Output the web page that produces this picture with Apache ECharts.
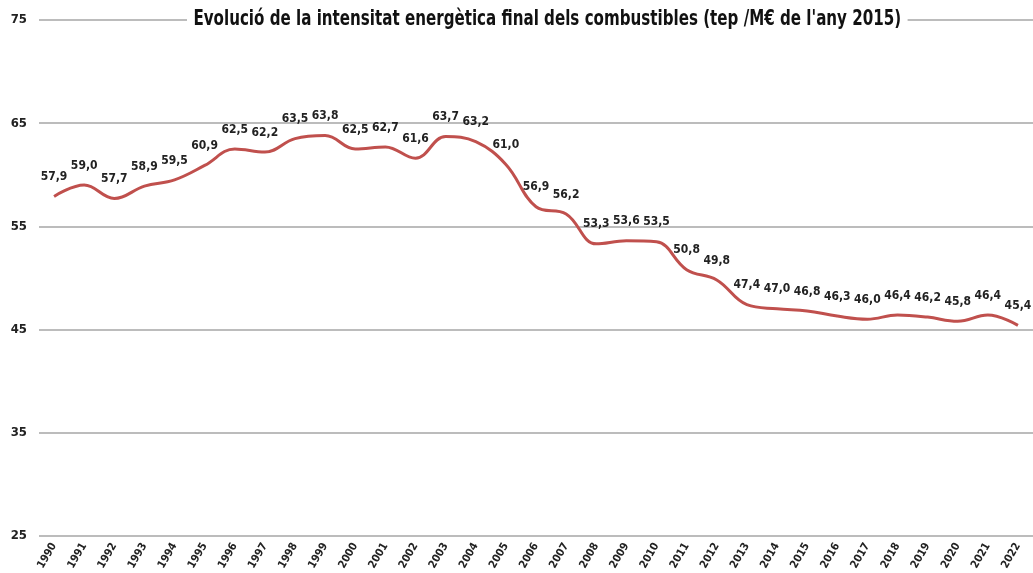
<!DOCTYPE html>
<html><head><meta charset="utf-8">
<script src="https://cdn.jsdelivr.net/npm/echarts@6/dist/echarts.min.js"></script>
<style>html,body{margin:0;padding:0;background:#fff}#c{width:1033px;height:573px}</style>
</head><body><div id="c"></div>
<script>
const categories = ['1990','1991','1992','1993','1994','1995','1996','1997','1998','1999','2000','2001','2002','2003','2004','2005','2006','2007','2008','2009','2010','2011','2012','2013','2014','2015','2016','2017','2018','2019','2020','2021','2022'];
const intensity = [57.9,59.0,57.7,58.9,59.5,60.9,62.5,62.2,63.5,63.8,62.5,62.7,61.6,63.7,63.2,61.0,56.9,56.2,53.3,53.6,53.5,50.8,49.8,47.4,47.0,46.8,46.3,46.0,46.4,46.2,45.8,46.4,45.4];
const yTicks = [25,35,45,55,65,75];
const titleText = "Evolució de la intensitat energètica final dels combustibles (tep /M€ de l'any 2015)";
const FONT = '"Liberation Sans Narrow","DejaVu Sans Condensed",sans-serif';
const chart = echarts.init(document.getElementById('c'));
chart.setOption({
  animation:false,
  graphic:[{type:'text',left:187,top:9,z:100,scaleX:0.8,originX:0,
    style:{text:titleText,fontFamily:FONT,fontSize:21,fontWeight:'bold',fill:'#111',
      backgroundColor:'#fff',padding:[0,8]}}],
  grid:{left:39,right:0,top:20,bottom:37},
  xAxis:{type:'category',data:categories,boundaryGap:true,
    axisLine:{show:false},axisTick:{show:false},
    axisLabel:{rotate:60,fontFamily:FONT,fontSize:11,fontWeight:'bold',color:'#222',margin:8,interval:0}},
  yAxis:{type:'value',min:yTicks[0],max:yTicks[yTicks.length-1],interval:10,
    axisLine:{show:false},axisTick:{show:false},
    axisLabel:{fontFamily:FONT,fontSize:13,fontWeight:'bold',color:'#222',margin:12},
    splitLine:{lineStyle:{color:'#a6a6a6',width:1.5}}},
  series:[{type:'line',data:intensity,smooth:0.4,symbol:'circle',symbolSize:1,showSymbol:true,
    itemStyle:{color:'rgba(0,0,0,0)'},
    lineStyle:{color:'#c0504d',width:3},
    label:{show:true,position:'top',distance:13,fontFamily:FONT,fontSize:12,fontWeight:'bold',color:'#222',
      formatter:p=>p.value.toFixed(1).replace('.',',')}}]
});
</script></body></html>
